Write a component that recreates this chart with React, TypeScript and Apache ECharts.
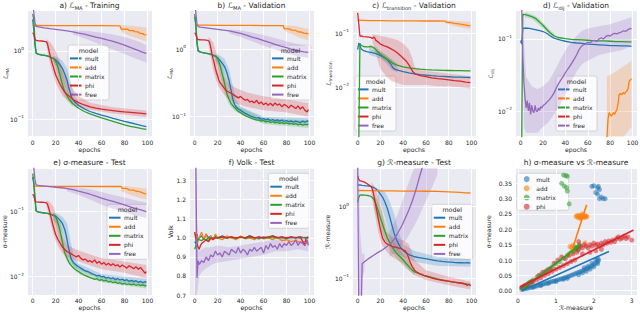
import React, { useEffect, useRef } from 'react';
import * as echarts from 'echarts';

const FONT = 'DejaVu Sans';
const TXT = '#262626';
const MODELS = ['mult', 'add', 'matrix', 'phi', 'free'];
const COLORS = ['#1f77b4', '#ff7f0e', '#2ca02c', '#d62728', '#9467bd'];

// ---------- a) L_MA - Training ----------
const aMult = [[0,2.9],[1,2.0],[2,1.2],[3,0.93],[5,0.89],[8,0.87],[10,0.86],[13,0.84],[15,0.82],[18,0.78],[20,0.74],[22,0.69],[24,0.62],[26,0.55],[28,0.46],[30,0.37],[31,0.31],[32,0.27],[33,0.235],[34,0.21],[36,0.185],[38,0.17],[40,0.16],[45,0.142],[50,0.13],[55,0.122],[60,0.115],[65,0.109],[70,0.103],[75,0.098],[80,0.093],[85,0.089],[90,0.085],[95,0.081],[99,0.078]];
const aAdd = [[0,2.36],[20,2.35],[40,2.35],[60,2.35],[76,2.34],[77,2.1],[83,2.08],[84,2.0],[88,1.98],[89,1.92],[92,1.9],[93,1.83],[96,1.8],[97,1.74],[99,1.72]];
const aMatrix = [[0,3.5],[1,2.8],[2,1.4],[3,0.93],[5,0.9],[8,0.88],[10,0.87],[13,0.85],[15,0.82],[18,0.77],[20,0.71],[21,0.65],[22,0.58],[23,0.5],[24,0.43],[25,0.37],[26,0.32],[27,0.28],[28,0.255],[30,0.22],[32,0.195],[34,0.175],[36,0.163],[38,0.153],[40,0.145],[45,0.13],[50,0.12],[55,0.112],[60,0.105],[65,0.099],[70,0.093],[75,0.088],[80,0.083],[85,0.079],[90,0.076],[95,0.073],[99,0.071]];
const aPhi = [[0,1.85],[1,1.75],[2,1.5],[3,1.43],[5,1.41],[8,1.4],[10,1.38],[12,1.36],[13,1.25],[14,1.05],[15,0.88],[16,0.76],[17,0.66],[18,0.58],[19,0.51],[20,0.45],[22,0.38],[24,0.32],[26,0.28],[28,0.25],[30,0.23],[33,0.21],[36,0.19],[40,0.175],[45,0.162],[50,0.152],[55,0.146],[60,0.141],[65,0.137],[70,0.134],[75,0.131],[80,0.128],[85,0.126],[90,0.124],[95,0.122],[99,0.12]];
const aFree = [[0,5],[1,3.6],[2,2.6],[3,2.3],[5,2.25],[10,2.18],[15,2.12],[20,2.07],[25,2.02],[30,1.97],[35,1.9],[40,1.83],[45,1.76],[50,1.68],[55,1.6],[60,1.53],[65,1.45],[70,1.38],[75,1.3],[80,1.22],[85,1.13],[90,1.05],[95,0.97],[99,0.92]];
const aMultBand = [[18,0.7,0.85],[22,0.55,0.8],[26,0.4,0.72],[30,0.26,0.55],[33,0.19,0.36],[36,0.16,0.23],[40,0.145,0.18]];
const aMatrixBand = [[18,0.68,0.83],[21,0.5,0.76],[24,0.33,0.6],[27,0.23,0.38],[30,0.19,0.26],[35,0.15,0.18]];
const aAddBand = [[77,1.95,2.38],[80,1.8,2.38],[85,1.65,2.35],[90,1.55,2.3],[95,1.45,2.25],[99,1.38,2.2]];
const aPhiBand = [[12,1.2,1.5],[14,0.78,1.4],[16,0.58,1.3],[18,0.44,1.15],[20,0.35,1.0],[23,0.27,0.75],[26,0.22,0.55],[30,0.19,0.38],[35,0.165,0.28],[40,0.15,0.22],[50,0.138,0.175],[70,0.122,0.15],[99,0.108,0.135]];
const aFreeBand = [[35,1.75,2.0],[40,1.65,2.0],[50,1.42,1.95],[60,1.22,1.85],[70,1.05,1.75],[80,0.9,1.6],[90,0.77,1.42],[99,0.68,1.22]];

// ---------- b) L_MA - Validation ----------
const bMult = [[0,3.0],[1,2.2],[2,1.2],[3,0.93],[5,0.9],[8,0.88],[10,0.86],[13,0.84],[15,0.82],[18,0.78],[20,0.74],[22,0.68],[24,0.62],[26,0.55],[28,0.45],[30,0.34],[31,0.28],[32,0.23],[33,0.19],[34,0.165],[35,0.15],[36,0.14],[38,0.13],[40,0.125],[42,0.118],[44,0.112],[46,0.108],[48,0.104],[50,0.1],[52,0.098],[54,0.095],[56,0.097],[58,0.092],[60,0.094],[62,0.09],[64,0.093],[66,0.088],[68,0.091],[70,0.087],[72,0.09],[74,0.086],[76,0.089],[78,0.085],[80,0.088],[82,0.084],[84,0.087],[86,0.083],[88,0.086],[90,0.084],[92,0.082],[94,0.086],[96,0.083],[98,0.087],[99,0.085]];
const bAdd = [[0,2.26],[10,2.25],[20,2.24],[30,2.24],[40,2.23],[50,2.23],[60,2.22],[70,2.22],[77,2.22],[78,2.0],[82,1.98],[85,1.9],[88,1.88],[90,1.8],[93,1.78],[95,1.72],[97,1.7],[99,1.68]];
const bMatrix = [[0,3.3],[1,2.4],[2,1.3],[3,0.95],[5,0.9],[8,0.88],[10,0.87],[13,0.85],[15,0.83],[18,0.79],[20,0.72],[21,0.66],[22,0.58],[23,0.5],[24,0.43],[25,0.37],[26,0.31],[27,0.26],[28,0.22],[30,0.18],[32,0.155],[34,0.14],[36,0.13],[38,0.12],[40,0.115],[42,0.108],[44,0.104],[46,0.1],[48,0.097],[50,0.094],[52,0.091],[54,0.089],[56,0.09],[58,0.086],[60,0.088],[62,0.084],[64,0.086],[66,0.082],[68,0.085],[70,0.081],[72,0.083],[74,0.08],[76,0.082],[78,0.079],[80,0.081],[82,0.078],[84,0.08],[86,0.077],[88,0.079],[90,0.076],[92,0.078],[94,0.075],[96,0.077],[98,0.076],[99,0.078]];
const bPhi = [[0,1.75],[1,1.65],[2,1.45],[3,1.38],[5,1.37],[8,1.36],[10,1.35],[12,1.33],[13,1.25],[14,1.05],[15,0.85],[16,0.72],[17,0.62],[18,0.52],[19,0.45],[20,0.4],[21,0.35],[22,0.32],[24,0.29],[26,0.26],[28,0.24],[30,0.23],[32,0.22],[34,0.21],[36,0.2],[38,0.19],[40,0.2],[42,0.185],[44,0.175],[46,0.18],[48,0.165],[50,0.17],[52,0.16],[54,0.175],[56,0.155],[58,0.165],[60,0.15],[62,0.16],[64,0.148],[66,0.158],[68,0.145],[70,0.16],[72,0.148],[74,0.155],[76,0.14],[78,0.152],[80,0.145],[82,0.135],[84,0.148],[86,0.14],[88,0.132],[90,0.145],[92,0.13],[94,0.14],[96,0.125],[98,0.118],[99,0.128]];
const bFree = [[0,4.5],[1,3.5],[2,2.3],[3,2.15],[5,2.1],[10,2.05],[15,2.0],[20,1.95],[25,1.9],[30,1.85],[35,1.78],[40,1.7],[45,1.6],[50,1.5],[55,1.42],[60,1.33],[65,1.25],[70,1.17],[75,1.1],[80,1.05],[85,0.99],[90,0.95],[95,0.91],[99,0.89]];
const bMultBand = [[18,0.68,0.85],[22,0.55,0.8],[26,0.4,0.72],[30,0.24,0.5],[33,0.16,0.3],[36,0.125,0.18],[40,0.11,0.14],[60,0.082,0.1],[99,0.075,0.095]];
const bMatrixBand = [[18,0.68,0.84],[21,0.5,0.78],[24,0.3,0.6],[27,0.2,0.35],[30,0.15,0.22],[35,0.12,0.15],[60,0.078,0.095],[99,0.068,0.088]];
const bAddBand = [[77,1.95,2.25],[80,1.8,2.25],[85,1.65,2.2],[90,1.5,2.15],[95,1.4,2.05],[99,1.35,2.0]];
const bPhiBand = [[12,1.2,1.5],[14,0.75,1.4],[16,0.5,1.25],[18,0.38,1.0],[20,0.3,0.7],[24,0.23,0.45],[28,0.19,0.33],[35,0.16,0.27],[45,0.14,0.23],[60,0.125,0.2],[80,0.115,0.18],[99,0.1,0.16]];
const bFreeBand = [[30,1.7,1.95],[40,1.5,1.9],[50,1.3,1.75],[60,1.12,1.6],[70,0.98,1.45],[80,0.86,1.3],[90,0.78,1.18],[99,0.74,1.1]];

// ---------- c) L_transition - Validation ----------
const cMult = [[0,0.05],[1,0.066],[2,0.06],[3,0.052],[5,0.048],[8,0.046],[10,0.045],[13,0.044],[16,0.042],[19,0.04],[22,0.037],[25,0.034],[27,0.031],[29,0.027],[31,0.023],[33,0.0215],[36,0.0205],[40,0.0195],[45,0.0185],[50,0.0178],[55,0.0172],[60,0.0168],[65,0.0164],[70,0.0161],[75,0.0159],[80,0.0157],[85,0.0155],[90,0.0154],[95,0.0153],[99,0.0152]];
const cAdd = [[0,0.176],[10,0.172],[20,0.171],[30,0.17],[40,0.17],[50,0.17],[60,0.169],[70,0.169],[77,0.168],[78,0.16],[82,0.158],[85,0.152],[90,0.148],[95,0.142],[99,0.137]];
const cMatrix = [[0,0.0005],[1,0.0009],[2,0.065],[3,0.06],[5,0.057],[8,0.056],[10,0.056],[12,0.057],[14,0.054],[16,0.05],[18,0.045],[20,0.041],[22,0.038],[25,0.034],[28,0.031],[31,0.028],[34,0.026],[37,0.025],[40,0.024],[45,0.023],[50,0.0222],[55,0.0217],[60,0.0213],[65,0.021],[70,0.0208],[75,0.0206],[80,0.0205],[85,0.0204],[90,0.0203],[95,0.0202],[99,0.0202]];
const cPhi = [[0,0.24],[1,0.15],[2,0.088],[3,0.09],[5,0.087],[8,0.086],[10,0.085],[12,0.083],[13,0.08],[14,0.085],[15,0.082],[16,0.074],[18,0.069],[20,0.063],[23,0.059],[26,0.056],[29,0.052],[32,0.048],[35,0.043],[38,0.038],[41,0.033],[43,0.03],[45,0.026],[47,0.022],[49,0.019],[51,0.0175],[55,0.0165],[60,0.0158],[65,0.015],[70,0.0145],[75,0.0142],[80,0.0138],[85,0.0133],[90,0.013],[95,0.0125],[99,0.0122]];
const cFree: number[][] = [];
const cMultBand = [[10,0.04,0.05],[20,0.034,0.046],[25,0.028,0.04],[30,0.021,0.032],[35,0.019,0.023]];
const cMatrixBand = [[10,0.05,0.062],[16,0.044,0.056],[22,0.033,0.043],[28,0.027,0.035],[35,0.024,0.028]];
const cAddBand = [[77,0.155,0.175],[85,0.135,0.17],[90,0.128,0.168],[99,0.12,0.163]];
const cPhiBand = [[13,0.07,0.095],[15,0.05,0.095],[18,0.03,0.092],[20,0.022,0.09],[25,0.016,0.085],[30,0.013,0.08],[35,0.012,0.075],[40,0.011,0.065],[45,0.011,0.05],[48,0.011,0.035],[50,0.011,0.024],[55,0.011,0.021],[60,0.011,0.02],[70,0.0105,0.019],[80,0.0105,0.018],[90,0.01,0.017],[99,0.0095,0.016]];

// ---------- d) L_dij - Validation ----------
const dMult = [[0,0.095],[1,0.085],[2,0.14],[4,0.142],[6,0.141],[8,0.14],[10,0.138],[12,0.136],[14,0.134],[16,0.132],[18,0.13],[20,0.127],[22,0.123],[24,0.118],[26,0.112],[28,0.107],[30,0.103],[32,0.1],[35,0.097],[40,0.093],[45,0.09],[50,0.088],[55,0.087],[60,0.085],[65,0.084],[70,0.083],[75,0.082],[80,0.081],[85,0.081],[90,0.08],[95,0.08],[99,0.079]];
const dAdd = [[76,0.001],[77,0.004],[78,0.0075],[79,0.0095],[80,0.009],[81,0.0085],[82,0.009],[83,0.0095],[84,0.009],[85,0.0098],[86,0.0105],[87,0.0125],[88,0.017],[89,0.0175],[90,0.0168],[91,0.0175],[92,0.018],[93,0.0172],[94,0.0185],[95,0.019],[96,0.0205],[97,0.026],[98,0.027],[99,0.028]];
const dMatrix = [[0,0.002],[1,0.003],[2,0.22],[4,0.218],[6,0.215],[8,0.21],[10,0.205],[12,0.198],[14,0.19],[16,0.178],[18,0.166],[20,0.155],[22,0.143],[24,0.132],[26,0.123],[28,0.116],[30,0.111],[32,0.107],[35,0.104],[40,0.101],[45,0.099],[50,0.098],[55,0.097],[60,0.096],[65,0.095],[70,0.094],[75,0.094],[80,0.093],[85,0.092],[90,0.092],[95,0.091],[99,0.091]];
const dPhi: number[][] = [];
const dFree = [[0,0.4],[1,0.3],[2,0.06],[3,0.025],[4,0.015],[5,0.011],[6,0.014],[7,0.01],[8,0.013],[9,0.009],[10,0.012],[11,0.01],[12,0.0095],[13,0.012],[14,0.01],[15,0.0098],[16,0.011],[17,0.0102],[18,0.0115],[19,0.011],[20,0.0118],[22,0.0125],[24,0.0135],[26,0.0145],[28,0.016],[30,0.018],[32,0.021],[34,0.024],[36,0.027],[38,0.03],[40,0.034],[42,0.038],[44,0.042],[46,0.047],[48,0.053],[50,0.06],[52,0.07],[54,0.078],[56,0.083],[58,0.085],[60,0.09],[62,0.088],[64,0.094],[66,0.096],[68,0.092],[70,0.1],[72,0.104],[74,0.1],[76,0.108],[78,0.112],[80,0.11],[82,0.116],[84,0.12],[86,0.118],[88,0.122],[90,0.125],[92,0.13],[94,0.128],[96,0.135],[98,0.14],[99,0.138]];
const dMatrixBand = [[4,0.2,0.235],[10,0.19,0.22],[15,0.165,0.2],[20,0.14,0.17],[25,0.12,0.14],[30,0.105,0.118]];
const dAddBand = [[77,0.002,0.03],[80,0.002,0.032],[85,0.003,0.035],[90,0.004,0.04],[95,0.005,0.045],[99,0.006,0.05]];
const dFreeBand = [[3,0.006,0.1],[5,0.005,0.03],[10,0.005,0.022],[15,0.005,0.02],[20,0.006,0.022],[25,0.007,0.026],[30,0.009,0.035],[35,0.012,0.05],[40,0.017,0.07],[45,0.025,0.09],[50,0.035,0.11],[55,0.045,0.13],[60,0.05,0.14],[70,0.06,0.15],[80,0.065,0.16],[90,0.07,0.18],[99,0.08,0.2]];

// ---------- e) sigma-measure - Test ----------
const eMult = [[0,0.33],[1,0.25],[2,0.15],[3,0.1],[5,0.097],[8,0.095],[10,0.094],[13,0.092],[15,0.09],[18,0.086],[20,0.083],[22,0.078],[24,0.072],[26,0.064],[28,0.052],[29,0.044],[30,0.036],[31,0.029],[32,0.024],[33,0.02],[34,0.018],[36,0.016],[38,0.015],[40,0.0142],[42,0.0135],[44,0.0128],[46,0.0122],[48,0.012],[50,0.0115],[52,0.011],[54,0.0107],[56,0.0103],[58,0.0105],[60,0.0099],[62,0.0101],[64,0.0095],[66,0.0098],[68,0.0093],[70,0.0096],[72,0.009],[74,0.0094],[76,0.0089],[78,0.0092],[80,0.0087],[82,0.009],[84,0.0085],[86,0.0088],[88,0.0084],[90,0.0087],[92,0.0082],[94,0.0085],[96,0.0081],[98,0.0084],[99,0.0082]];
const eAdd = [[0,0.24],[20,0.238],[40,0.237],[60,0.236],[77,0.236],[78,0.222],[82,0.22],[84,0.21],[88,0.208],[90,0.2],[93,0.198],[95,0.19],[97,0.185],[99,0.18]];
const eMatrix = [[0,0.37],[1,0.28],[2,0.16],[3,0.1],[5,0.096],[8,0.094],[10,0.093],[13,0.092],[15,0.09],[18,0.087],[20,0.082],[21,0.075],[22,0.066],[23,0.057],[24,0.048],[25,0.04],[26,0.033],[27,0.027],[28,0.023],[30,0.019],[32,0.016],[34,0.0145],[36,0.0133],[38,0.0125],[40,0.012],[42,0.0113],[44,0.0108],[46,0.0104],[48,0.01],[50,0.0097],[52,0.0094],[54,0.0091],[56,0.0093],[58,0.0088],[60,0.009],[62,0.0086],[64,0.0088],[66,0.0083],[68,0.0085],[70,0.0081],[72,0.0083],[74,0.0079],[76,0.0081],[78,0.0077],[80,0.0079],[82,0.0076],[84,0.0078],[86,0.0075],[88,0.0077],[90,0.0074],[92,0.0076],[94,0.0073],[96,0.0075],[98,0.0072],[99,0.0074]];
const ePhi = [[0,0.18],[1,0.17],[2,0.145],[3,0.138],[5,0.137],[8,0.136],[10,0.135],[12,0.133],[13,0.125],[14,0.11],[15,0.095],[16,0.08],[17,0.068],[18,0.058],[19,0.05],[20,0.044],[22,0.037],[24,0.032],[26,0.028],[28,0.026],[30,0.024],[32,0.023],[34,0.022],[36,0.021],[38,0.02],[40,0.021],[42,0.019],[44,0.018],[46,0.0185],[48,0.017],[50,0.0175],[52,0.0165],[54,0.018],[56,0.016],[58,0.017],[60,0.0155],[62,0.0165],[64,0.015],[66,0.016],[68,0.0148],[70,0.0158],[72,0.0146],[74,0.0152],[76,0.014],[78,0.015],[80,0.0143],[82,0.0135],[84,0.0147],[86,0.014],[88,0.0132],[90,0.0142],[92,0.013],[94,0.0138],[96,0.0125],[98,0.0112],[99,0.012]];
const eFree = [[0,0.6],[1,0.45],[2,0.3],[3,0.25],[5,0.245],[10,0.24],[15,0.235],[20,0.23],[25,0.226],[30,0.22],[35,0.212],[40,0.2],[45,0.19],[50,0.18],[55,0.168],[60,0.157],[65,0.148],[70,0.14],[75,0.132],[80,0.124],[85,0.116],[90,0.109],[95,0.103],[99,0.098]];
const eMultBand = [[18,0.075,0.095],[22,0.06,0.09],[26,0.045,0.082],[30,0.025,0.065],[33,0.017,0.035],[36,0.014,0.02],[40,0.0128,0.0158],[60,0.009,0.011],[99,0.0072,0.0092]];
const eMatrixBand = [[18,0.075,0.094],[21,0.055,0.088],[24,0.035,0.07],[27,0.022,0.04],[30,0.017,0.023],[40,0.011,0.0135],[60,0.0082,0.0098],[99,0.0066,0.0082]];
const eAddBand = [[77,0.2,0.24],[80,0.19,0.24],[85,0.175,0.235],[90,0.165,0.23],[95,0.155,0.225],[99,0.15,0.22]];
const ePhiBand = [[12,0.12,0.145],[14,0.085,0.14],[16,0.06,0.13],[18,0.045,0.115],[20,0.035,0.09],[23,0.027,0.06],[26,0.023,0.04],[30,0.02,0.03],[40,0.017,0.025],[60,0.013,0.019],[80,0.0115,0.017],[99,0.0095,0.015]];
const eFreeBand = [[30,0.2,0.24],[40,0.175,0.23],[50,0.15,0.215],[60,0.125,0.195],[70,0.108,0.175],[80,0.095,0.16],[90,0.085,0.145],[99,0.078,0.135]];

// ---------- f) Volk - Test ----------
const fMult = [[0,0.98],[1,0.97],[2,1.02],[3,0.99],[4,1.0],[6,1.01],[8,0.99],[10,1.02],[12,1.0],[14,1.01],[16,0.99],[18,1.01],[20,1.0],[24,1.01],[28,1.0],[32,1.005],[36,0.995],[40,1.005],[44,1.0],[48,1.01],[52,1.0],[56,0.995],[60,1.005],[64,1.0],[68,1.01],[72,1.0],[76,1.005],[80,0.995],[84,1.005],[88,1.0],[92,1.005],[96,1.0],[99,1.0]];
const fAdd = [[0,1.03],[1,0.99],[2,1.01],[3,0.98],[4,1.0],[6,1.03],[8,0.99],[10,1.02],[12,0.98],[14,1.01],[16,0.99],[18,1.02],[20,1.0],[24,0.99],[28,1.01],[32,1.0],[36,0.99],[40,1.01],[44,0.995],[48,1.0],[52,0.99],[56,1.005],[60,0.995],[64,1.0],[68,0.99],[72,1.005],[76,0.985],[80,0.99],[84,0.98],[88,0.985],[92,0.975],[96,0.98],[99,0.97]];
const fMatrix = [[0,0.94],[1,0.96],[2,0.98],[3,0.995],[4,0.99],[6,0.985],[8,0.995],[10,0.99],[12,1.0],[14,0.995],[16,1.0],[18,1.0],[20,1.0],[24,1.002],[28,0.998],[32,1.002],[36,1.0],[40,1.003],[44,0.999],[48,1.002],[52,1.0],[56,1.003],[60,0.999],[64,1.002],[68,1.0],[72,1.003],[76,0.998],[80,1.002],[84,1.0],[88,1.003],[92,0.999],[96,1.002],[99,1.0]];
const fPhi = [[0,1.03],[1,1.0],[2,0.97],[3,0.95],[4,0.94],[5,0.96],[6,0.97],[8,0.98],[10,0.99],[12,0.98],[14,1.0],[16,0.99],[18,1.0],[20,1.0],[24,1.005],[28,1.0],[32,1.005],[36,1.0],[40,1.005],[44,1.0],[48,1.01],[52,1.0],[56,1.005],[60,1.0],[64,1.005],[68,1.01],[72,1.0],[76,1.005],[80,1.0],[84,1.005],[88,1.0],[92,1.005],[96,0.96],[97,1.0],[99,1.005]];
const fFree = [[0,1.5],[1,1.4],[2,0.79],[3,0.88],[4,0.86],[5,0.87],[6,0.88],[8,0.87],[10,0.9],[12,0.88],[14,0.91],[16,0.9],[18,0.93],[20,0.91],[22,0.92],[24,0.9],[26,0.93],[28,0.92],[30,0.91],[32,0.94],[34,0.93],[36,0.92],[38,0.95],[40,0.92],[42,0.94],[44,0.93],[46,0.91],[48,0.94],[50,0.93],[52,0.95],[54,0.93],[56,0.94],[58,0.95],[60,0.92],[62,0.96],[64,0.94],[66,0.97],[68,0.95],[70,0.96],[72,0.94],[74,0.97],[76,0.95],[78,0.97],[80,0.96],[82,0.98],[84,0.96],[86,0.97],[88,0.99],[90,0.96],[92,0.98],[94,0.97],[96,0.96],[98,0.99],[99,0.96]];
const fFreeBand = [[0,0.7,1.36],[1,0.7,1.36],[2,0.7,1.1],[3,0.75,1.0],[4,0.8,0.93],[6,0.82,0.94],[10,0.84,0.95],[15,0.86,0.95],[20,0.87,0.96],[30,0.88,0.95],[40,0.89,0.96],[50,0.9,0.97],[60,0.91,0.98],[70,0.93,0.99],[80,0.93,1.0],[90,0.94,1.01],[99,0.93,1.0]];

// ---------- g) R-measure - Test ----------
const gMult = [[0,2.0],[2,2.02],[4,1.98],[6,1.96],[8,1.95],[10,1.93],[12,1.9],[14,1.86],[16,1.78],[18,1.65],[20,1.5],[22,1.35],[24,1.15],[26,0.95],[28,0.74],[30,0.56],[32,0.43],[34,0.35],[36,0.3],[38,0.265],[40,0.245],[42,0.23],[44,0.22],[46,0.21],[48,0.205],[50,0.2],[54,0.195],[58,0.19],[62,0.185],[66,0.18],[70,0.175],[74,0.172],[78,0.17],[82,0.168],[86,0.166],[90,0.165],[94,0.164],[97,0.166],[99,0.163]];
const gAdd = [[0,1.68],[10,1.67],[20,1.66],[30,1.66],[40,1.65],[50,1.65],[60,1.64],[70,1.63],[80,1.61],[90,1.58],[95,1.56],[99,1.55]];
const gMatrix = [[0,1.15],[1,1.35],[2,1.45],[4,1.46],[6,1.45],[8,1.44],[10,1.42],[12,1.38],[14,1.28],[16,1.1],[18,0.88],[20,0.7],[22,0.56],[24,0.45],[26,0.37],[28,0.32],[30,0.28],[32,0.25],[34,0.225],[36,0.21],[38,0.195],[40,0.18],[42,0.165],[44,0.152],[46,0.14],[48,0.13],[50,0.123],[54,0.116],[58,0.11],[62,0.106],[66,0.102],[70,0.098],[74,0.095],[78,0.092],[82,0.09],[86,0.088],[90,0.086],[94,0.084],[97,0.082],[99,0.083]];
const gPhi = [[0,2.7],[1,2.4],[2,2.3],[4,2.25],[6,2.2],[8,2.1],[10,2.0],[12,1.9],[13,1.75],[14,1.5],[15,1.25],[16,1.02],[17,0.85],[18,0.7],[19,0.58],[20,0.48],[21,0.41],[22,0.36],[24,0.32],[26,0.3],[28,0.29],[30,0.28],[34,0.27],[38,0.26],[40,0.25],[42,0.24],[44,0.21],[46,0.17],[48,0.145],[50,0.13],[52,0.122],[55,0.115],[58,0.11],[62,0.105],[66,0.1],[70,0.097],[74,0.094],[78,0.092],[82,0.09],[86,0.088],[90,0.086],[94,0.084],[96,0.08],[98,0.082],[99,0.078]];
const gFree = [[0,5],[1,0.03],[3,0.03],[4,0.16],[6,0.17],[8,0.18],[10,0.19],[14,0.21],[18,0.23],[22,0.25],[26,0.28],[30,0.32],[33,0.37],[36,0.45],[39,0.55],[42,0.7],[45,0.9],[48,1.2],[50,1.5],[52,1.9],[54,2.5],[56,3.2],[58,4.2]];
const gMultBand = [[18,1.3,1.8],[20,1.1,1.75],[24,0.7,1.6],[28,0.4,1.2],[32,0.27,0.8],[36,0.22,0.45],[40,0.2,0.3],[50,0.17,0.24],[70,0.15,0.2],[99,0.145,0.185]];
const gMatrixBand = [[14,1.0,1.45],[18,0.6,1.2],[22,0.4,0.8],[26,0.3,0.5],[30,0.23,0.35],[40,0.15,0.22],[50,0.11,0.14]];
const gPhiBand = [[12,1.5,2.2],[15,0.8,1.9],[18,0.45,1.4],[21,0.3,0.9],[25,0.24,0.45],[30,0.2,0.38],[40,0.16,0.34],[45,0.13,0.3],[50,0.11,0.18],[60,0.095,0.13],[80,0.08,0.105],[99,0.07,0.09]];
const gFreeBand0 = [[1,0.03,5],[2,0.03,0.5],[3,0.05,0.3],[4,0.1,0.22],[6,0.13,0.22]];
const gFreeBand = [[28,0.2,0.45],[32,0.22,0.6],[36,0.25,0.85],[40,0.3,1.3],[45,0.4,2.2],[50,0.55,3.6],[55,0.8,5],[60,1.2,5],[65,1.8,5],[70,2.8,5]];

// ---------- h) sigma-measure vs R-measure ----------
const hMult = [[0.1,0.004],[0.15,0.005],[0.2,0.007],[0.25,0.008],[0.3,0.01],[0.35,0.011],[0.4,0.013],[0.45,0.014],[0.5,0.016],[0.55,0.018],[0.6,0.019],[0.65,0.021],[0.7,0.023],[0.75,0.024],[0.8,0.026],[0.85,0.028],[0.9,0.03],[0.95,0.031],[1.0,0.033],[1.05,0.035],[1.1,0.037],[1.15,0.039],[1.2,0.041],[1.25,0.043],[1.3,0.045],[1.35,0.047],[1.4,0.05],[1.45,0.052],[1.5,0.055],[1.55,0.057],[1.6,0.06],[1.65,0.062],[1.7,0.065],[1.75,0.068],[1.8,0.071],[1.85,0.074],[1.9,0.077],[1.95,0.081],[2.0,0.085],[2.05,0.09],[2.1,0.095],[2.13,0.1],[1.6,0.052],[1.7,0.058],[1.8,0.063],[1.9,0.07],[2.0,0.078],[2.1,0.088],[1.75,0.075],[1.85,0.08],[1.95,0.09],[2.05,0.1],[2.1,0.104],[1.3,0.04],[1.2,0.037],[1.0,0.03],[0.8,0.024],[0.6,0.017],[0.4,0.011],[1.95,0.34],[2.0,0.342],[2.1,0.335],[2.12,0.34],[2.05,0.32],[2.1,0.315],[2.15,0.3],[2.2,0.305],[2.25,0.3],[2.3,0.3],[2.15,0.33]];
const hAdd = [[1.53,0.242],[1.56,0.245],[1.58,0.238],[1.6,0.244],[1.62,0.24],[1.64,0.246],[1.66,0.239],[1.68,0.243],[1.7,0.241],[1.72,0.245],[1.74,0.238],[1.76,0.243],[1.78,0.24],[1.8,0.244],[1.82,0.241],[1.65,0.235],[1.7,0.25],[1.37,0.144],[1.42,0.14],[1.45,0.148],[1.77,0.156],[1.5,0.143]];
const hMatrix = [[0.1,0.01],[0.15,0.012],[0.2,0.018],[0.25,0.022],[0.3,0.027],[0.35,0.03],[0.4,0.035],[0.5,0.045],[0.6,0.052],[0.7,0.06],[0.8,0.07],[0.9,0.078],[1.0,0.088],[1.1,0.095],[1.2,0.105],[1.3,0.115],[1.35,0.12],[1.4,0.125],[1.45,0.128],[1.5,0.135],[1.52,0.14],[1.55,0.14],[1.58,0.132],[1.6,0.145],[1.62,0.15],[1.2,0.377],[1.26,0.375],[1.3,0.373],[1.15,0.35],[1.22,0.341],[1.28,0.336],[1.3,0.325],[1.35,0.283]];
const hPhi = [[0.1,0.01],[0.15,0.015],[0.2,0.017],[0.25,0.02],[0.3,0.024],[0.35,0.027],[0.4,0.03],[0.5,0.036],[0.55,0.05],[0.6,0.042],[0.65,0.06],[0.7,0.05],[0.75,0.065],[0.8,0.056],[0.85,0.072],[0.9,0.063],[0.95,0.09],[1.0,0.07],[1.05,0.1],[1.1,0.076],[1.15,0.11],[1.2,0.082],[1.25,0.105],[1.3,0.088],[1.35,0.115],[1.4,0.095],[1.45,0.12],[1.5,0.1],[1.55,0.125],[1.6,0.135],[1.6,0.16],[1.65,0.145],[1.7,0.14],[1.7,0.12],[1.75,0.15],[1.8,0.145],[1.85,0.14],[1.9,0.15],[1.9,0.125],[1.95,0.145],[2.0,0.155],[2.05,0.148],[2.05,0.13],[2.1,0.152],[2.15,0.145],[2.2,0.155],[2.2,0.135],[2.25,0.15],[2.3,0.16],[2.35,0.155],[2.4,0.162],[2.45,0.158],[2.5,0.165],[2.55,0.16],[2.6,0.17],[2.65,0.175],[2.7,0.168],[2.75,0.172],[2.8,0.178],[2.85,0.17],[2.9,0.175],[3.0,0.165]];
const hMultFit = [[0.1,0.0],[2.4,0.128]];
const hAddFit = [[1.37,0.11],[1.81,0.28]];
const hMatrixFit = [[0.1,0.004],[1.65,0.15]];
const hPhiFit = [[0.05,0.012],[3.05,0.198]];

// ---------- text ----------
const TITLES = ['a) ℒ{s|MA} - Training', 'b) ℒ{s|MA} - Validation', 'c) ℒ{s|transition} - Validation', 'd) ℒ{s|dij} - Validation', 'e) σ-measure - Test', 'f) Volk - Test', 'g) ℛ-measure - Test', 'h) σ-measure vs ℛ-measure'];
const YNAMES = ['ℒ{s|MA}', 'ℒ{s|MA}', 'ℒ{s|transition}', 'ℒ{s|dij}', 'σ-measure', 'Volk', 'ℛ-measure', 'σ-measure'];
const XNAMES = ['epochs', 'epochs', 'epochs', 'epochs', 'epochs', 'epochs', 'epochs', 'ℛ-measure'];
const LEGEND_TITLE = 'model';

// ---------- layout (positions, not data) ----------
const GRID_RECTS = [[27,10.7,125,126],[189,10.7,125,126],[352,10.7,124,126],[515,10.7,122,126],[27,168.3,125,126.7],[189,168.3,125,126.7],[352,168.3,124,126.7],[515,168.3,122,126.7]];
const Y_SPECS: any[] = [
  { log: true, min: 0.0556, max: 3.89 },
  { log: true, min: 0.0507, max: 3.68 },
  { log: true, min: 0.00122, max: 0.262 },
  { log: true, min: 0.0044, max: 0.247 },
  { log: true, min: 0.00526, max: 0.447 },
  { log: false, min: 0.7, max: 1.365, interval: 0.1, dec: 1, step: 0.1 },
  { log: true, min: 0.0585, max: 3.43 },
  { log: false, min: -0.0141, max: 0.399, split: 8, dec: 2, step: 0.05 },
];
const YNAME_OFF = [22, 20, 24, 25, 23, 19, 25, 27];
const LEG_POS = [[68,45],[270,45],[355,76],[556,76],[107,204.3],[268.3,173.3],[431.7,204.3],[516.7,173.3]];

const PANEL_LINES = [
  [aMult, aAdd, aMatrix, aPhi, aFree],
  [bMult, bAdd, bMatrix, bPhi, bFree],
  [cMult, cAdd, cMatrix, cPhi, cFree],
  [dMult, dAdd, dMatrix, dPhi, dFree],
  [eMult, eAdd, eMatrix, ePhi, eFree],
  [fMult, fAdd, fMatrix, fPhi, fFree],
  [gMult, gAdd, gMatrix, gPhi, gFree],
];
const PANEL_BANDS: any[] = [
  [[0, aMultBand], [2, aMatrixBand], [1, aAddBand], [3, aPhiBand], [4, aFreeBand]],
  [[0, bMultBand], [2, bMatrixBand], [1, bAddBand], [3, bPhiBand], [4, bFreeBand]],
  [[0, cMultBand], [2, cMatrixBand], [1, cAddBand], [3, cPhiBand]],
  [[2, dMatrixBand], [1, dAddBand], [4, dFreeBand]],
  [[0, eMultBand], [2, eMatrixBand], [1, eAddBand], [3, ePhiBand], [4, eFreeBand]],
  [[4, fFreeBand]],
  [[0, gMultBand], [2, gMatrixBand], [3, gPhiBand], [4, gFreeBand0], [4, gFreeBand]],
];
const H_SCATTER = [hMult, hAdd, hMatrix, hPhi];
const H_FITS = [hMultFit, hAddFit, hMatrixFit, hPhiFit];

function richSub(size: number) {
  return { s: { fontSize: size * 0.68, fontFamily: FONT, fill: TXT, color: TXT, verticalAlign: 'bottom', lineHeight: size * 0.75 } };
}

function textEl(x: number, y: number, text: string, size: number, rot = 0, align = 'center') {
  return {
    type: 'text', x, y, rotation: rot, z: 100, silent: true,
    style: { text, fontSize: size, fontFamily: FONT, fill: TXT, align, verticalAlign: 'middle', lineHeight: size * 1.35, rich: richSub(size) },
  };
}

function powLabel(v: number) {
  const e = Math.log10(v);
  const r = Math.round(e);
  if (Math.abs(e - r) > 1e-6) return '';
  return '10{p|' + (r < 0 ? '−' + (-r) : String(r)) + '}';
}

function bandSeries(gi: number, color: string, band: number[][]) {
  return {
    type: 'custom', xAxisIndex: gi, yAxisIndex: gi, silent: true, z: 1,
    data: band, encode: { x: 0, y: [1, 2] },
    renderItem: (params: any, api: any) => {
      if (params.dataIndex !== 0) return null;
      const up = band.map((d) => api.coord([d[0], d[2]]));
      const lo = band.map((d) => api.coord([d[0], d[1]])).reverse();
      const cs = params.coordSys;
      return {
        type: 'polygon', shape: { points: up.concat(lo) },
        style: { fill: color, opacity: 0.22 },
        clipPath: { type: 'rect', shape: { x: cs.x, y: cs.y, width: cs.width, height: cs.height } },
      };
    },
  };
}

// legend drawn as graphic (box, handles, labels)
function legendGroup(left: number, top: number, scatter: boolean) {
  const children: any[] = [];
  const n = scatter ? 4 : 5;
  const w = scatter ? 52 : 41;
  const h = scatter ? 37 : 55;
  children.push({ type: 'rect', shape: { x: left, y: top, width: w, height: h, r: 2 },
    style: { fill: 'rgba(255,255,255,0.8)', stroke: '#cccccc', lineWidth: 0.8 } });
  if (!scatter) children.push(textEl(left + w / 2, top + 5.3, LEGEND_TITLE, 6.3));
  for (let k = 0; k < n; k++) {
    const y = scatter ? top + 5.8 + k * 9.2 : top + 13.4 + k * 9.05;
    if (scatter) {
      children.push({ type: 'circle', shape: { cx: left + 10, cy: y, r: 3 }, style: { fill: COLORS[k], opacity: 0.6 } });
      children.push(textEl(left + 19.5, y, MODELS[k], 6, 0, 'left'));
    } else {
      children.push({ type: 'line', shape: { x1: left + 2, y1: y, x2: left + 13.5, y2: y }, style: { stroke: COLORS[k], lineWidth: 2 } });
      children.push(textEl(left + 17, y, MODELS[k], 6, 0, 'left'));
    }
  }
  return { type: 'group', z: 90, silent: true, children };
}

function buildOption() {
  const grid: any[] = [];
  const xAxis: any[] = [];
  const yAxis: any[] = [];
  const series: any[] = [];
  const graphic: any[] = [];
  const axisCommon = {
    axisLine: { show: false }, axisTick: { show: false },
    splitLine: { show: true, lineStyle: { color: '#ffffff', width: 0.9 } },
  };
  GRID_RECTS.forEach((r, i) => {
    grid.push({ left: r[0], top: r[1], width: r[2], height: r[3], show: true, backgroundColor: '#EAEAF2', borderWidth: 0, borderColor: 'transparent', containLabel: false, outerBoundsMode: 'none' });
    if (i === 7) {
      xAxis.push({ type: 'value', gridIndex: i, min: -0.08, max: 3.14, splitNumber: 4, ...axisCommon,
        axisLabel: { margin: 2.5, fontSize: 6, fontFamily: FONT, color: TXT, formatter: (v: number) => (Math.abs(v - Math.round(v)) < 1e-6 && v >= 0 ? String(Math.round(v)) : '') } });
    } else {
      xAxis.push({ type: 'value', gridIndex: i, min: -4.95, max: 103.95, splitNumber: 5, ...axisCommon,
        axisLabel: { margin: 2.5, fontSize: 6, fontFamily: FONT, color: TXT, formatter: (v: number) => (v >= 0 && Math.abs(v % 20) < 1e-6 ? String(v) : '') } });
    }
    const ys = Y_SPECS[i];
    if (ys.log) {
      yAxis.push({ type: 'log', logBase: 10, gridIndex: i, min: ys.min, max: ys.max, ...axisCommon,
        axisLabel: { margin: 3, fontSize: 6, fontFamily: FONT, color: TXT, lineHeight: 9, formatter: powLabel,
          rich: { p: { fontSize: 4.3, fontFamily: FONT, color: TXT, verticalAlign: 'top', lineHeight: 5 } } } });
    } else {
      const y: any = { type: 'value', gridIndex: i, min: ys.min, max: ys.max, ...axisCommon,
        axisLabel: { margin: 3, fontSize: 6, fontFamily: FONT, color: TXT,
          formatter: (v: number) => { const k = v / ys.step; return (Math.abs(k - Math.round(k)) < 1e-6 && v >= -1e-9) ? v.toFixed(ys.dec) : ''; } } };
      if (ys.interval) y.interval = ys.interval;
      if (ys.split) y.splitNumber = ys.split;
      yAxis.push(y);
    }
    graphic.push(textEl(r[0] + r[2] / 2, r[1] - 5.5, TITLES[i], 7.5));
    graphic.push(textEl(r[0] - YNAME_OFF[i], r[1] + r[3] / 2, YNAMES[i], 6.2, Math.PI / 2));
    graphic.push(textEl(r[0] + r[2] / 2, r[1] + r[3] + 12.5, XNAMES[i], 6.2));
  });

  PANEL_LINES.forEach((lines, gi) => {
    PANEL_BANDS[gi].forEach((b: any) => series.push(bandSeries(gi, COLORS[b[0]], b[1])));
    lines.forEach((data, mi) => {
      series.push({ type: 'line', name: MODELS[mi], xAxisIndex: gi, yAxisIndex: gi, data, symbol: 'none', showSymbol: false,
        color: COLORS[mi], itemStyle: { color: COLORS[mi] }, lineStyle: { width: 1.3, color: COLORS[mi] }, z: 2, clip: true, silent: true });
    });
  });
  H_SCATTER.forEach((data, mi) => {
    series.push({ type: 'scatter', name: MODELS[mi], xAxisIndex: 7, yAxisIndex: 7, data, symbolSize: 5,
      itemStyle: { color: COLORS[mi], opacity: 0.55 }, z: 2, silent: true });
    series.push({ type: 'line', name: MODELS[mi] + ' fit', xAxisIndex: 7, yAxisIndex: 7, data: H_FITS[mi], symbol: 'none',
      lineStyle: { width: 1.6, color: COLORS[mi] }, itemStyle: { color: COLORS[mi] }, z: 3, silent: true });
  });

  LEG_POS.forEach((p, i) => graphic.push(legendGroup(p[0], p[1], i === 7)));

  return {
    animation: false,
    textStyle: { fontFamily: FONT },
    grid, xAxis, yAxis, series, graphic,
  };
}

export default function App() {
  const ref = useRef<HTMLDivElement>(null);
  useEffect(() => {
    const chart = echarts.init(ref.current as HTMLDivElement, undefined, { renderer: 'svg' });
    chart.setOption(buildOption() as any);
    return () => chart.dispose();
  }, []);
  return <div ref={ref} style={{ position: 'absolute', left: 0, top: 0, width: 640, height: 315 }} />;
}
